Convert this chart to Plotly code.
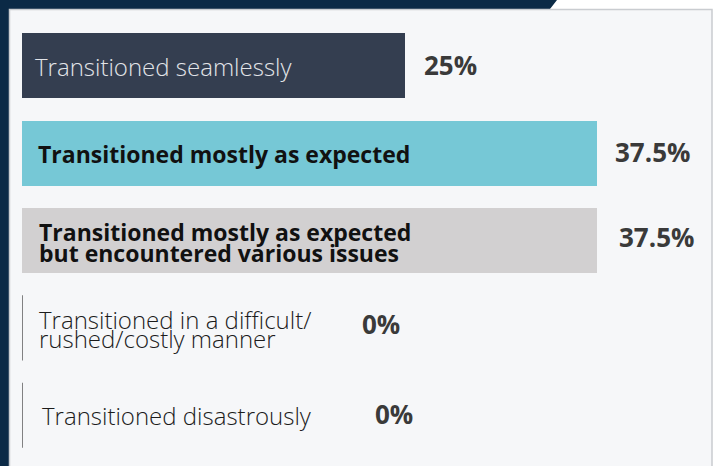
import plotly.graph_objects as go

# Survey responses: how the transition went
categories = [
    "Transitioned seamlessly",
    "Transitioned mostly as expected",
    "Transitioned mostly as expected\nbut encountered various issues",
    "Transitioned in a difficult/\nrushed/costly manner",
    "Transitioned disastrously",
]
shares = [25, 37.5, 37.5, 0, 0]
value_labels = ["25%", "37.5%", "37.5%", "0%", "0%"]

# Styling per row
bar_colors = ["#343e50", "#76c8d6", "#d2d0d1", "#f6f7f9", "#f6f7f9"]
label_colors = ["#e2e4e8", "#111111", "#111111", "#1c1c1c", "#1c1c1c"]
label_weights = [300, 700, 700, 300, 300]
label_shift = [11, 14, 15, 15, 18]
label_yshift = [-1, -1, -2, -1, 0]
# value text sits after the bar end, or after the label for empty rows
value_shift = [17, 16, 20, 338, 351]
value_yshift = [1, 1, 4, 4, 1]

NAVY = "#0b2a46"
PANEL = "#f6f7f9"
BAR_W = 0.745
FONT = "Open Sans"

W, H = 718, 466
ML, MR, MT, MB = 22, 6, 22, 7
PW, PH = W - ML - MR, H - MT - MB


def px_x(px):
    return (px - ML) / PW


def px_y(py):
    return 1 - (py - MT) / PH


rows = list(range(len(categories)))

fig = go.Figure(
    go.Bar(
        x=shares,
        y=rows,
        orientation="h",
        width=BAR_W,
        marker=dict(color=bar_colors, line=dict(width=0)),
        hoverinfo="skip",
    )
)

annotations = []
shapes = []
for i, (label, v, vl) in enumerate(zip(categories, shares, value_labels)):
    lines = label.split("\n")
    n = len(lines)
    bold = label_weights[i] >= 600
    pitch = 21 if bold else 19
    for j, line in enumerate(lines):
        annotations.append(dict(
            x=0, y=i, xref="x", yref="y",
            text=line, showarrow=False,
            xanchor="left", yanchor="middle",
            xshift=label_shift[i],
            yshift=-(j - (n - 1) / 2) * pitch + label_yshift[i],
            font=dict(family=FONT, size=23 if bold else 24,
                      color=label_colors[i], weight=label_weights[i]),
        ))
    annotations.append(dict(
        x=v, y=i, xref="x", yref="y",
        text=vl, showarrow=False,
        xanchor="left", yanchor="middle",
        xshift=value_shift[i], yshift=value_yshift[i],
        font=dict(family=FONT, size=26, color="#3a3a3a", weight=700),
    ))
    if v == 0:
        # empty rows get a thin baseline marker
        shapes.append(dict(
            type="line", xref="x", yref="y",
            x0=v, x1=v, y0=i - BAR_W / 2, y1=i + BAR_W / 2,
            line=dict(color="#5a5a5a", width=1.5),
        ))

# Frame: navy corner band and the light card
nx = [0, 557, 550, 9, 9, 0]
ny = [0, 0, 9, 9, 466, 466]
path = "M " + " L ".join(f"{px_x(a):.5f},{px_y(b):.5f}" for a, b in zip(nx, ny)) + " Z"
shapes = [
    dict(type="path", xref="paper", yref="paper", path=path,
         fillcolor=NAVY, line=dict(width=0), layer="below"),
    dict(type="rect", xref="paper", yref="paper",
         x0=px_x(9.5), x1=px_x(712), y0=px_y(9.5), y1=px_y(470),
         fillcolor=PANEL, line=dict(color="#c9ccd0", width=1.5), layer="below"),
] + shapes

fig.update_layout(
    width=W, height=H,
    margin=dict(l=ML, r=MR, t=MT, b=MB),
    paper_bgcolor="white",
    plot_bgcolor="rgba(0,0,0,0)",
    showlegend=False,
    bargap=0,
    xaxis=dict(range=[0, 45], visible=False, fixedrange=True),
    yaxis=dict(range=[len(categories) - 0.5, -0.5], visible=False, fixedrange=True),
    annotations=annotations,
    shapes=shapes,
)

fig.write_html("out.html", config={"displayModeBar": False})
